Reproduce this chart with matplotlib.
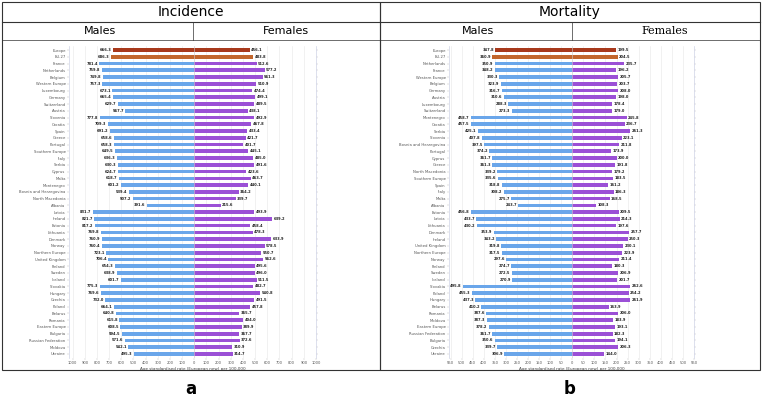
import numpy as np
import matplotlib
matplotlib.use("Agg")
import matplotlib.pyplot as plt
from matplotlib.patches import Rectangle
from matplotlib.lines import Line2D

# incidence, per 100,000 (age standardised, European new)
inc_countries = ['Europe', 'EU-27', 'France', 'Netherlands', 'Belgium', 'Western Europe', 'Luxembourg',
                 'Germany', 'Switzerland', 'Austria', 'Slovenia', 'Croatia', 'Spain', 'Greece', 'Portugal',
                 'Southern Europe', 'Italy', 'Serbia', 'Cyprus', 'Malta', 'Montenegro',
                 'Bosnia and Herzegovina', 'North Macedonia', 'Albania', 'Latvia', 'Ireland', 'Estonia',
                 'Lithuania', 'Denmark', 'Norway', 'Northern Europe', 'United Kingdom', 'Finland', 'Sweden',
                 'Iceland', 'Slovakia', 'Hungary', 'Czechia', 'Poland', 'Belarus', 'Romania',
                 'Eastern Europe', 'Bulgaria', 'Russian Federation', 'Moldova', 'Ukraine']
inc_males = [666.3, 686.3, 781.4, 759.8, 749.8, 757.3, 673.1, 665.4, 629.7, 567.7, 777.8, 709.3, 691.2,
             658.6, 658.3, 649.5, 636.3, 630.3, 624.7, 618.7, 601.2, 539.4, 507.2, 391.6, 831.7, 821.7,
             817.2, 769.8, 760.9, 760.4, 723.1, 706.4, 654.3, 638.9, 601.7, 775.3, 769.6, 732.0, 664.1,
             640.8, 615.8, 608.5, 594.5, 571.6, 542.1, 495.3]
inc_females = [456.1, 483.8, 512.6, 577.2, 561.3, 510.9, 474.4, 499.1, 489.5, 438.1, 492.9, 467.8, 433.4,
               421.7, 401.7, 445.1, 485.0, 491.6, 423.6, 463.7, 440.1, 364.2, 339.7, 215.6, 493.9, 639.2,
               458.4, 478.3, 633.9, 578.5, 550.7, 562.6, 495.6, 496.0, 511.5, 482.7, 540.8, 491.5, 457.8,
               365.7, 404.0, 389.9, 367.7, 372.6, 310.9, 314.7]

# mortality, per 100,000
mort_countries = ['Europe', 'EU-27', 'Netherlands', 'France', 'Western Europe', 'Belgium', 'Germany',
                  'Austria', 'Luxembourg', 'Switzerland', 'Montenegro', 'Croatia', 'Serbia', 'Slovenia',
                  'Bosnia and Herzegovina', 'Portugal', 'Cyprus', 'Greece', 'North Macedonia',
                  'Southern Europe', 'Spain', 'Italy', 'Malta', 'Albania', 'Estonia', 'Latvia', 'Lithuania',
                  'Denmark', 'Ireland', 'United Kingdom', 'Northern Europe', 'Norway', 'Finland', 'Sweden',
                  'Iceland', 'Slovakia', 'Poland', 'Hungary', 'Belarus', 'Romania', 'Moldova',
                  'Eastern Europe', 'Russian Federation', 'Bulgaria', 'Czechia', 'Ukraine']
mort_males = [347.8, 360.9, 350.9, 348.2, 330.3, 323.9, 316.7, 310.6, 288.3, 273.3, 458.7, 457.5, 425.1,
              407.8, 397.5, 374.2, 361.7, 361.3, 339.2, 335.6, 318.8, 308.2, 275.7, 243.7, 456.8, 433.7,
              430.2, 353.9, 343.2, 319.8, 317.5, 297.6, 274.7, 272.5, 270.9, 495.8, 455.3, 437.3, 410.2,
              387.6, 387.3, 378.2, 361.7, 350.6, 339.7, 306.9]
mort_females = [199.5, 204.5, 235.7, 196.2, 205.7, 203.7, 208.0, 198.0, 178.4, 179.0, 245.8, 236.7, 261.3,
                223.1, 211.8, 173.9, 200.0, 191.8, 179.2, 183.5, 161.2, 186.3, 168.5, 108.3, 209.5, 214.3,
                197.6, 257.7, 250.3, 230.1, 223.9, 211.4, 180.3, 206.9, 201.7, 262.6, 254.2, 261.9, 163.9,
                206.0, 183.9, 193.1, 182.3, 194.1, 206.3, 144.0]

BLUE = '#6aa6ea'
PURPLE = '#9b50d6'
EUROPE_C = '#a8391c'
EU_C = '#c2662c'

W, H = 762, 404
fig = plt.figure(figsize=(W / 100, H / 100), dpi=100)


def fx(px):
    return px / W


def fy(py):
    return 1 - py / H


def butterfly(ax, countries, males, females, lim_m, lim_f, step, xlab):
    n = len(countries)
    y = np.arange(n)
    colors = [EUROPE_C, EU_C] + [None] * (n - 2)
    mcol = [c if c else BLUE for c in colors]
    fcol = [c if c else PURPLE for c in colors]
    ax.barh(y, -np.array(males), height=0.55, color=mcol, zorder=3)
    ax.barh(y, females, height=0.55, color=fcol, zorder=3)
    for i in range(n):
        ax.text(-males[i] - lim_m * 0.012, y[i], f'{males[i]:.1f}', ha='right', va='center',
                fontsize=2.6, fontweight='bold', color='#222222')
        ax.text(females[i] + lim_f * 0.012, y[i], f'{females[i]:.1f}', ha='left', va='center',
                fontsize=2.6, fontweight='bold', color='#222222')
    ax.set_ylim(n - 0.4, -0.6)
    ax.set_xlim(-lim_m, lim_f)
    ax.set_yticks(y)
    ax.set_yticklabels(countries, fontsize=2.7, color='#555555')
    ticks = np.arange(-int(lim_m // step) * step, lim_f + 1, step)
    ax.set_xticks(ticks)
    ax.set_xticklabels([str(abs(int(t))) for t in ticks], fontsize=2.6, color='#555555')
    ax.tick_params(axis='both', length=1.5, width=0.3, color='#bbbbbb', pad=1)
    ax.tick_params(axis='y', right=True, length=1.5)
    ax.grid(axis='x', color='#e6e6e6', linewidth=0.4, zorder=0)
    for s in ['top', 'bottom']:
        ax.spines[s].set_visible(False)
    for s in ['left', 'right']:
        ax.spines[s].set_color('#cfd3e6')
        ax.spines[s].set_linewidth(0.5)
    ax.axvline(0, color='#cfcfcf', linewidth=0.4, zorder=4)
    ax.set_xlabel(xlab, fontsize=3, color='#444444', labelpad=1)


ax1 = fig.add_axes([fx(69), fy(358), fx(316 - 69), (358 - 46) / H])
butterfly(ax1, inc_countries, inc_males, inc_females, 1030, 1000, 100,
          'Age standardised rate (European new) per 100,000')

ax2 = fig.add_axes([fx(449), fy(358), fx(694 - 449), (358 - 46) / H])
butterfly(ax2, mort_countries, mort_males, mort_females, 557, 550, 50,
          'Age standardised rate (European new) per 100,000')

# frame, header boxes and sub-headers
lc = '#333333'
for x0, x1 in [(2, 380), (380, 760)]:
    fig.add_artist(Rectangle((fx(x0), fy(370)), fx(x1 - x0), (370 - 2) / H, transform=fig.transFigure,
                             fill=False, edgecolor=lc, linewidth=0.8))
    fig.add_artist(Line2D([fx(x0), fx(x1)], [fy(22), fy(22)], transform=fig.transFigure,
                          color=lc, linewidth=0.8))
    fig.add_artist(Line2D([fx(x0), fx(x1)], [fy(40), fy(40)], transform=fig.transFigure,
                          color=lc, linewidth=0.5))

fig.add_artist(Line2D([fx(193), fx(193)], [fy(40), fy(22)], transform=fig.transFigure, color=lc, linewidth=0.5))
fig.add_artist(Line2D([fx(572), fx(572)], [fy(40), fy(22)], transform=fig.transFigure, color=lc, linewidth=0.5))

fig.text(fx(191), fy(12), 'Incidence', ha='center', va='center', fontsize=10)
fig.text(fx(570), fy(12), 'Mortality', ha='center', va='center', fontsize=10)
fig.text(fx(100), fy(31), 'Males', ha='center', va='center', fontsize=8)
fig.text(fx(286), fy(31), 'Females', ha='center', va='center', fontsize=8)
fig.text(fx(478), fy(31), 'Males', ha='center', va='center', fontsize=8)
fig.text(fx(665), fy(31), 'Females', ha='center', va='center', fontsize=8, family='serif')

fig.text(fx(191), fy(389), 'a', ha='center', va='center', fontsize=12, fontweight='bold')
fig.text(fx(570), fy(389), 'b', ha='center', va='center', fontsize=12, fontweight='bold')

fig.savefig('out.png', dpi=100)
